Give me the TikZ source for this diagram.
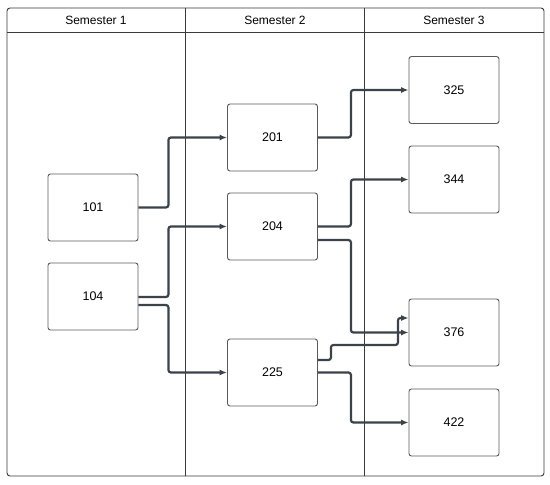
\documentclass[tikz,border=0pt]{standalone}
\usepackage{fontspec}
\setmainfont{Liberation Sans}
\usepackage{tikz}
\usetikzlibrary{arrows.meta}

\definecolor{framegray}{HTML}{3A3A3A}
\definecolor{boxgray}{HTML}{5A5A5A}
\definecolor{linkgray}{HTML}{3B424A}

\tikzset{
  course/.style={draw=boxgray,line width=0.9pt,rounded corners=2.5pt,
    minimum width=90pt,minimum height=67pt,inner sep=0pt,font=\fontsize{12.5}{14}\selectfont},
  link/.style={draw=linkgray,line width=2.2pt,rounded corners=2.5pt,
    -{Latex[length=7.5pt,width=6pt]}},
  header/.style={font=\fontsize{12}{14}\selectfont,inner sep=0pt}
}

\begin{document}
\begin{tikzpicture}[x=1pt,y=-1pt]
      \useasboundingbox (0,0) rectangle (550,485);

      % frame and columns
      \draw[framegray,line width=0.9pt,rounded corners=3pt] (7,8) rectangle (544,476);
      \draw[framegray,line width=0.9pt] (7,32) -- (544,32);
      \draw[framegray,line width=0.9pt] (185,8) -- (185,476);
      \draw[framegray,line width=0.9pt] (364,8) -- (364,476);

      \node[header] (s1) at (96,20) {Semester 1};
      \node[header] (s2) at (275,20) {Semester 2};
      \node[header] (s3) at (454,20) {Semester 3};

      % courses
      \node[course] (101) at (93,207.5) {101};
      \node[course] (104) at (93,296.5) {104};
      \node[course] (201) at (272.5,137.5) {201};
      \node[course] (204) at (272.5,226.5) {204};
      \node[course] (225) at (272.5,372.5) {225};
      \node[course] (325) at (454,90) {325};
      \node[course] (344) at (454,179.5) {344};
      \node[course] (376) at (454,332.5) {376};
      \node[course] (422) at (454,422.5) {422};

      % prerequisites
      \draw[link] (101.east) -- ++(30,0) |- (201.west);
      \draw[link] ([yshift=-0.5]104.east) -- ++(30,0) |- (204.west);
      \draw[link] ([yshift=-8.5]104.east) -- ++(30,0) |- (225.west);
      \draw[link] (201.east) -- ++(33,0) |- (325.west);
      \draw[link] (204.east) -- ++(33,0) |- (344.west);
      \draw[link] ([yshift=-13.5]204.east) -- ++(33,0) |- (376.west);
      \draw[link] ([yshift=12.5]225.east) -- ++(13,0) -- ++(0,-15) -- ++(67,0) |- ([yshift=14.5]376.west);
      \draw[link] (225.east) -- ++(33,0) |- (422.west);
    \end{tikzpicture}
\end{document}
